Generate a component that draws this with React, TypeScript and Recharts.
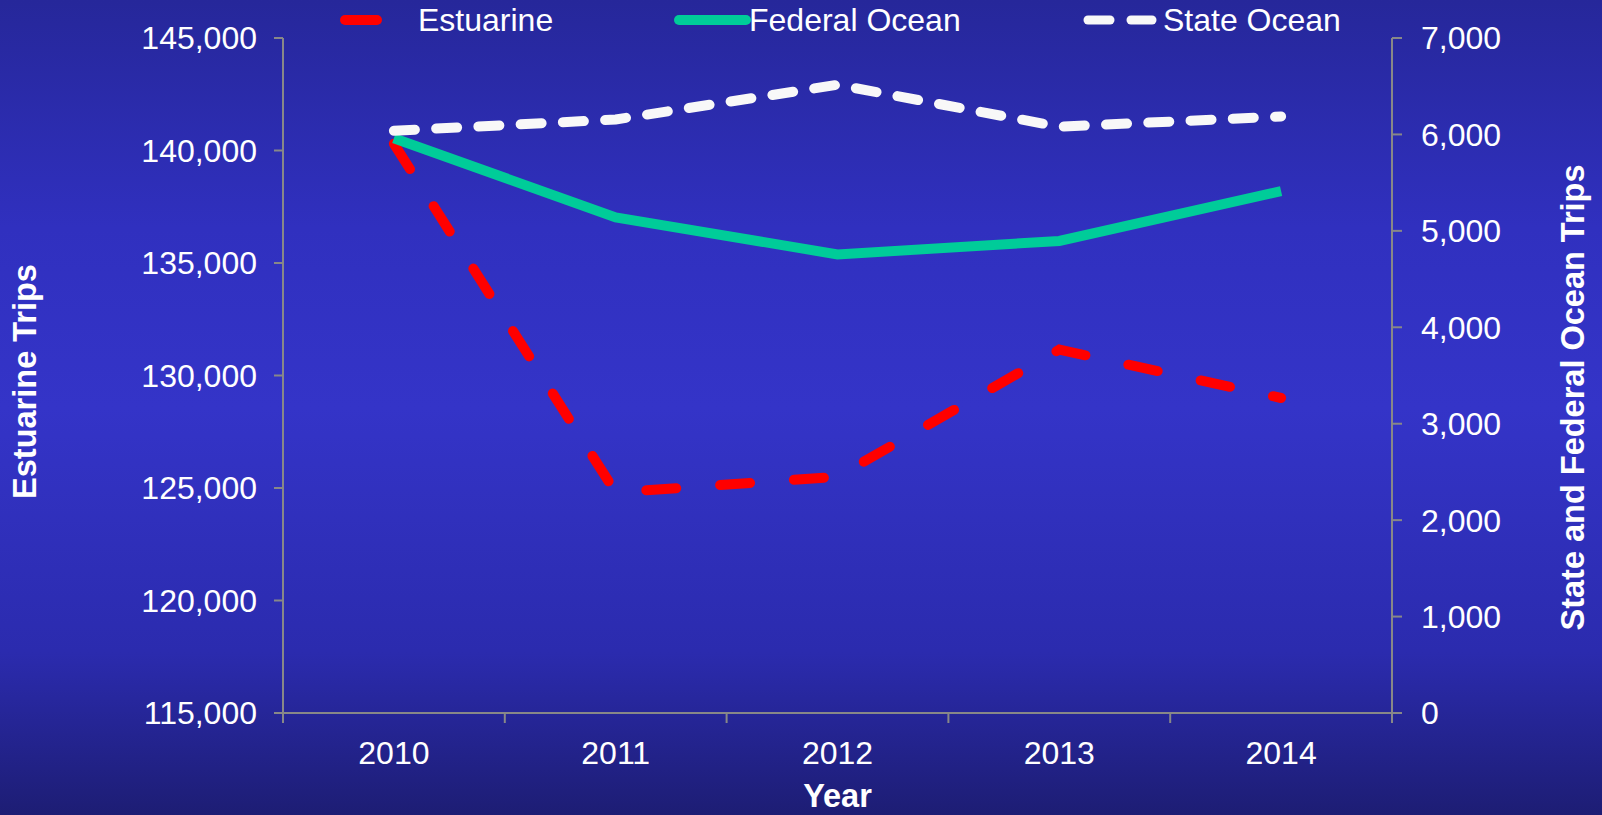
import React from "react";
import { Legend, Line, LineChart, XAxis, YAxis } from "recharts";

const years = ["2010", "2011", "2012", "2013", "2014"];
const estuarine = [140300, 124800, 125500, 131150, 129000];
const federalOcean = [5960, 5140, 4756, 4895, 5413];
const stateOcean = [6038, 6155, 6515, 6080, 6186];

const leftTicks = [115000, 120000, 125000, 130000, 135000, 140000, 145000];
const rightTicks = [0, 1000, 2000, 3000, 4000, 5000, 6000, 7000];
// category centres plus the boundaries between them (Excel-style tick marks)
const xTicks = [-0.5, 0, 0.5, 1, 1.5, 2, 2.5, 3, 3.5, 4, 4.5];

const data = years.map((year, i) => ({
  idx: i,
  year,
  estuarine: estuarine[i],
  federal: federalOcean[i],
  state: stateOcean[i],
}));

const FONT = "'Liberation Sans', Arial, Helvetica, sans-serif";
const AXIS = "#888888";
const FS = 32;
const X_TICK_SIZE = 10;
const X_TICK_MARGIN = 18;

const fmt = (v: number) => v.toLocaleString("en-US");

function XTick(props: any) {
  const { x, y, payload } = props;
  const v = payload.value as number;
  if (!Number.isInteger(v)) {
    return (
      <line
        x1={x}
        x2={x}
        y1={y - X_TICK_MARGIN - X_TICK_SIZE}
        y2={y - X_TICK_MARGIN}
        stroke={AXIS}
        strokeWidth={2}
      />
    );
  }
  return (
    <text x={x} y={y} dy="0.71em" textAnchor="middle" fill="#fff" fontSize={FS} fontFamily={FONT}>
      {years[v]}
    </text>
  );
}

const legendLayout: Record<string, { icon: [number, number][]; textX: number; width: number }> = {
  estuarine: { icon: [[345, 377]], textX: 418, width: 10 },
  federal: { icon: [[679, 746]], textX: 749, width: 10 },
  state: { icon: [[1088, 1110], [1131, 1152]], textX: 1163, width: 9 },
};

function LegendContent(props: any) {
  const payload = props.payload ?? [];
  return (
    <svg width={1602} height={40} style={{ display: "block" }}>
      {payload.map((entry: any) => {
        const lay = legendLayout[entry.dataKey];
        if (!lay) return null;
        return (
          <g key={entry.dataKey}>
            {lay.icon.map(([a, b], k) => (
              <line
                key={k}
                x1={a}
                x2={b}
                y1={20}
                y2={20}
                stroke={entry.color}
                strokeWidth={lay.width}
                strokeLinecap="round"
              />
            ))}
            <text x={lay.textX} y={31} fill="#fff" fontSize={FS} fontFamily={FONT}>
              {entry.value}
            </text>
          </g>
        );
      })}
    </svg>
  );
}

const titleStyle = { fill: "#fff", fontSize: 32.5, fontWeight: 700, fontFamily: FONT };

export default function App() {
  return (
    <div
      style={{
        position: "absolute",
        left: 0,
        top: 0,
        width: 1602,
        height: 815,
        background: "linear-gradient(180deg, #26279a 0%, #3030bf 28%, #3434c8 50%, #2b2bae 80%, #1d1d74 100%)",
        overflow: "hidden",
      }}
    >
      <LineChart width={1602} height={815} data={data} margin={{ top: 38, right: 0, bottom: 0, left: 0 }}>
        <XAxis
          dataKey="idx"
          type="number"
          domain={[-0.5, 4.5]}
          ticks={xTicks}
          interval={0}
          height={102}
          tickSize={X_TICK_SIZE}
          tickMargin={X_TICK_MARGIN}
          tickLine={false}
          axisLine={{ stroke: AXIS, strokeWidth: 2 }}
          tick={<XTick />}
          label={{ value: "Year", position: "insideBottom", offset: 8, ...titleStyle, style: titleStyle }}
        />
        <YAxis
          yAxisId="left"
          orientation="left"
          width={283}
          domain={[115000, 145000]}
          ticks={leftTicks}
          interval={0}
          tickFormatter={fmt}
          tickSize={9}
          tickMargin={17}
          axisLine={{ stroke: AXIS, strokeWidth: 2 }}
          tickLine={{ stroke: AXIS, strokeWidth: 2 }}
          tick={{ fill: "#fff", fontSize: FS, fontFamily: FONT }}
          label={{
            content: (p: any) => {
              const vb = p.viewBox;
              const cx = vb.x + 24;
              const cy = vb.y + vb.height / 2 + 6;
              return (
                <text
                  x={cx}
                  y={cy}
                  transform={`rotate(-90 ${cx} ${cy})`}
                  textAnchor="middle"
                  dy="0.355em"
                  {...titleStyle}
                >
                  Estuarine Trips
                </text>
              );
            },
          }}
        />
        <YAxis
          yAxisId="right"
          orientation="right"
          width={210}
          domain={[0, 7000]}
          ticks={rightTicks}
          interval={0}
          tickFormatter={fmt}
          tickSize={10}
          tickMargin={19}
          axisLine={{ stroke: AXIS, strokeWidth: 2 }}
          tickLine={{ stroke: AXIS, strokeWidth: 2 }}
          tick={{ fill: "#fff", fontSize: FS, fontFamily: FONT }}
          label={{
            content: (p: any) => {
              const vb = p.viewBox;
              const cx = vb.x + vb.width - 30;
              const cy = vb.y + vb.height / 2 + 22;
              return (
                <text
                  x={cx}
                  y={cy}
                  transform={`rotate(-90 ${cx} ${cy})`}
                  textAnchor="middle"
                  dy="0.355em"
                  {...titleStyle}
                >
                  State and Federal Ocean Trips
                </text>
              );
            },
          }}
        />
        <Legend
          verticalAlign="middle"
          align="center"
          layout="horizontal"
          wrapperStyle={{ top: 0, left: 0, width: 1602, height: 40 }}
          content={<LegendContent />}
        />
        <Line
          yAxisId="left"
          dataKey="estuarine"
          name="Estuarine"
          stroke="#ff0000"
          strokeWidth={10}
          strokeDasharray="30 44"
          strokeLinecap="round"
          dot={false}
          activeDot={false}
          type="linear"
          isAnimationActive={false}
        />
        <Line
          yAxisId="right"
          dataKey="federal"
          name="Federal Ocean"
          stroke="#00cc99"
          strokeWidth={10}
          dot={false}
          activeDot={false}
          type="linear"
          isAnimationActive={false}
        />
        <Line
          yAxisId="right"
          dataKey="state"
          name="State Ocean"
          stroke="#f8f8f8"
          strokeWidth={10}
          strokeDasharray="21 21.3"
          strokeLinecap="round"
          dot={false}
          activeDot={false}
          type="linear"
          isAnimationActive={false}
        />
      </LineChart>
    </div>
  );
}
